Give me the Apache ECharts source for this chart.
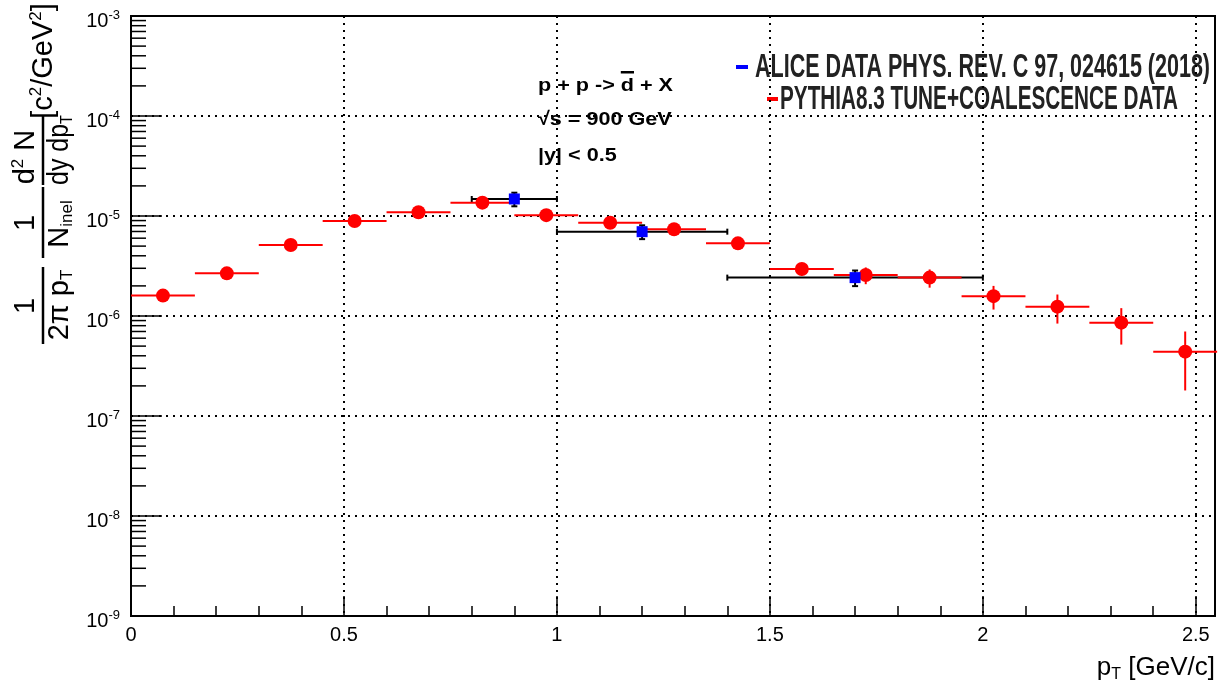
<!DOCTYPE html>
<html>
<head>
<meta charset="utf-8">
<title>anti-deuteron pT spectrum</title>
<script src="https://cdn.jsdelivr.net/npm/echarts@6/dist/echarts.min.js"></script>
<style>
  html, body { margin: 0; padding: 0; background: #fff; }
  #main { width: 1218px; height: 688px; }
</style>
</head>
<body>
<div id="main"></div>
<script>
// PYTHIA8.3 tune + coalescence (red), bins are 0.15 GeV/c wide
var pythiaPt = [0.075, 0.225, 0.375, 0.525, 0.675, 0.825, 0.975, 1.125, 1.275,
  1.425, 1.575, 1.725, 1.875, 2.025, 2.175, 2.325, 2.475];
var pythiaVal = [1.60e-6, 2.67e-6, 5.13e-6, 8.91e-6, 1.09e-5, 1.36e-5, 1.02e-5,
  8.57e-6, 7.36e-6, 5.33e-6, 2.95e-6, 2.57e-6, 2.42e-6, 1.58e-6, 1.24e-6, 8.58e-7, 4.40e-7];
var pythiaErr = [0.05e-6, 0.08e-6, 0.12e-6, 0.2e-6, 0.25e-6, 0.3e-6, 0.3e-6,
  0.3e-6, 0.3e-6, 0.3e-6, 0.40e-6, 0.49e-6, 0.50e-6, 0.42e-6, 0.40e-6, 0.34e-6, 0.26e-6];
var pythiaHalfWidth = 0.075;

// ALICE data (blue), with bin edges
var alicePt = [0.9, 1.2, 1.7];
var aliceLow = [0.8, 1.0, 1.4];
var aliceHigh = [1.0, 1.4, 2.0];
var aliceVal = [1.48e-5, 6.97e-6, 2.42e-6];
var aliceErr = [0.23e-5, 1.1e-6, 0.43e-6];

// log axis minor ticks: mantissa x 10^decade
var yDecades = [-9, -8, -7, -6, -5, -4];
var yMantissas = [2, 3, 4, 5, 6, 7, 8, 9];

var aliceLabel = "ALICE DATA PHYS. REV. C 97, 024615 (2018)";
var pythiaLabel = "PYTHIA8.3 TUNE+COALESCENCE DATA";
var infoLine1 = ["p + p -> ", "d", " + X"];
var infoLine2 = "\u221As = 900 GeV";
var infoLine3 = "|y| < 0.5";

var font = "Liberation Sans, Arial, Helvetica, sans-serif";

function textWidth(str, f) {
  var ctx = document.createElement("canvas").getContext("2d");
  ctx.font = f;
  return ctx.measureText(str).width;
}

var yMinor = [];
yDecades.forEach(function (d) {
  yMantissas.forEach(function (m) {
    yMinor.push([0, m * Math.pow(10, d)]);
  });
});

// legend + text box, squeezed to the width they have in the picture
var legendFont = "bold 34px Liberation Sans";
var aliceScale = 455 / textWidth(aliceLabel, legendFont);
var pythiaScale = 398 / textWidth(pythiaLabel, legendFont);
var infoFont = "bold 19px Liberation Sans";
var infoScale = 135 / textWidth(infoLine1.join(""), infoFont);
var dOffset = textWidth(infoLine1[0], infoFont) * infoScale;
var dWidth = textWidth(infoLine1[1], infoFont) * infoScale;

// d2N / dy dpT denominator is narrower in the picture
var dydpScale = 70 / (textWidth("dy dp", "29px Liberation Sans") + textWidth("T", "17px Liberation Sans"));

var yRich = {
  m: { fontSize: 29, fontFamily: font, color: "#000", lineHeight: 32 },
  s: { fontSize: 17, fontFamily: font, color: "#000", lineHeight: 12, verticalAlign: "bottom" },
  p: { fontSize: 17, fontFamily: font, color: "#000", lineHeight: 14, verticalAlign: "top" },
};

function yTitleText(str, x, y, va, sx) {
  return {
    type: "text", x: x, y: y, scaleX: sx || 1,
    style: { text: str, rich: yRich, align: "center", verticalAlign: va, fill: "#000" },
  };
}

function bar(x, w) {
  return { type: "rect", shape: { x: x, y: -1.25, width: w, height: 2.5 }, style: { fill: "#000" } };
}

var chart = echarts.init(document.getElementById("main"));

var option = {
  animation: false,
  backgroundColor: "#fff",
  grid: {
    left: 131, right: 3, top: 16, bottom: 72,
    show: true, borderColor: "#000", borderWidth: 2, backgroundColor: "transparent",
  },
  xAxis: [
    {
      type: "value", min: 0, max: 2.545, interval: 0.5,
      axisLine: { lineStyle: { color: "#000", width: 2 } },
      axisTick: { inside: true, length: 20, lineStyle: { color: "#000", width: 1.5 } },
      axisLabel: {
        color: "#000", fontSize: 20, fontFamily: font, margin: 9,
        showMaxLabel: false,
      },
      splitLine: { show: true, lineStyle: { color: "#000", width: 2, type: [2, 5] } },
      name: "{a|p}{s|T}{a| [GeV/c]}",
      nameLocation: "end",
      nameGap: 0,
      nameTextStyle: {
        align: "right", verticalAlign: "top", padding: [37, 0, 0, 0],
        rich: {
          a: { fontSize: 26, fontFamily: font, color: "#000", lineHeight: 30 },
          s: { fontSize: 16, fontFamily: font, color: "#000", lineHeight: 6, verticalAlign: "bottom" },
        },
      },
    },
    {
      // minor ticks every 0.1
      type: "value", min: 0, max: 2.545, interval: 0.1, position: "bottom",
      axisLine: { show: false },
      axisTick: { inside: true, length: 10, lineStyle: { color: "#000", width: 1.5 } },
      axisLabel: { show: false },
      splitLine: { show: false },
    },
  ],
  yAxis: {
    type: "log", logBase: 10, min: 1e-9, max: 1e-3,
    axisLine: { show: true, lineStyle: { color: "#000", width: 2 } },
    axisTick: { show: true, inside: true, length: 31, lineStyle: { color: "#000", width: 1.5 } },
    axisLabel: {
      margin: 11, padding: [8, 0, 0, 0],
      formatter: function (v) {
        return "{b|10}{s|" + Math.round(Math.log10(v)) + "}";
      },
      rich: {
        b: { fontSize: 20, fontFamily: font, color: "#000", lineHeight: 22, verticalAlign: "bottom" },
        s: { fontSize: 13, fontFamily: font, color: "#000", lineHeight: 13, verticalAlign: "top" },
      },
    },
    splitLine: { show: true, lineStyle: { color: "#000", width: 2, type: [2, 5] } },
  },
  graphic: [
    {
      // y title, rotated to read bottom to top
      type: "group", x: 43, y: 345, rotation: Math.PI / 2,
      children: [
        bar(1, 77),
        yTitleText("{m|1}", 39, -1, "bottom"),
        yTitleText("{m|2\u03C0 p}{s|T}", 40, 1, "top"),
        bar(87, 71),
        yTitleText("{m|1}", 122, -1, "bottom"),
        yTitleText("{m|N}{s|inel}", 121, 1, "top"),
        bar(160, 70),
        yTitleText("{m|d}{p|2}{m| N}", 188, -1, "bottom"),
        yTitleText("{m|dy dp}{s|T}", 195, 1, "top", dydpScale),
        yTitleText("{m|[c}{p|2}{m|/GeV}{p|2}{m|]}", 284, 1, "middle"),
      ],
    },
    { type: "rect", shape: { x: 736, y: 65, width: 12, height: 4 }, style: { fill: "#0000ff" } },
    {
      type: "text", x: 755, y: 68, scaleX: aliceScale,
      style: { text: aliceLabel, font: legendFont, fill: "#222", verticalAlign: "middle" },
    },
    { type: "rect", shape: { x: 767, y: 97, width: 11, height: 4 }, style: { fill: "#ff0000" } },
    {
      type: "text", x: 780, y: 100, scaleX: pythiaScale,
      style: { text: pythiaLabel, font: legendFont, fill: "#222", verticalAlign: "middle" },
    },
    {
      type: "text", x: 538, y: 86, scaleX: infoScale,
      style: { text: infoLine1.join(""), font: infoFont, fill: "#000", verticalAlign: "middle" },
    },
    { type: "rect", shape: { x: 538 + dOffset, y: 71, width: dWidth, height: 2.5 }, style: { fill: "#000" } },
    {
      type: "text", x: 538, y: 120, scaleX: infoScale,
      style: { text: infoLine2, font: infoFont, fill: "#000", verticalAlign: "middle" },
    },
    {
      type: "text", x: 538, y: 156, scaleX: infoScale,
      style: { text: infoLine3, font: infoFont, fill: "#000", verticalAlign: "middle" },
    },
  ],
  series: [
    {
      name: "ALICE bins",
      type: "custom",
      data: alicePt.map(function (x, i) {
        return [x, aliceVal[i], aliceLow[i], aliceHigh[i], aliceErr[i]];
      }),
      encode: { x: 0, y: 1 },
      renderItem: function (params, api) {
        var x = api.value(0), y = api.value(1), e = api.value(4);
        var l = api.coord([api.value(2), y]);
        var r = api.coord([api.value(3), y]);
        var t = api.coord([x, y + e]);
        var b = api.coord([x, y - e]);
        var cap = 3;
        var st = { stroke: "#000", lineWidth: 2 };
        return {
          type: "group",
          children: [
            { type: "line", shape: { x1: l[0], y1: l[1], x2: r[0], y2: r[1] }, style: st },
            { type: "line", shape: { x1: l[0], y1: l[1] - cap, x2: l[0], y2: l[1] + cap }, style: st },
            { type: "line", shape: { x1: r[0], y1: r[1] - cap, x2: r[0], y2: r[1] + cap }, style: st },
            { type: "line", shape: { x1: t[0], y1: t[1], x2: b[0], y2: b[1] }, style: st },
            { type: "line", shape: { x1: t[0] - cap, y1: t[1], x2: t[0] + cap, y2: t[1] }, style: st },
            { type: "line", shape: { x1: b[0] - cap, y1: b[1], x2: b[0] + cap, y2: b[1] }, style: st },
          ],
        };
      },
      silent: true,
      z: 3,
    },
    {
      name: "PYTHIA bins",
      type: "custom",
      data: pythiaPt.map(function (x, i) {
        return [x, pythiaVal[i], pythiaErr[i]];
      }),
      encode: { x: 0, y: 1 },
      renderItem: function (params, api) {
        var x = api.value(0), y = api.value(1), e = api.value(2);
        var l = api.coord([x - pythiaHalfWidth, y]);
        var r = api.coord([x + pythiaHalfWidth, y]);
        var t = api.coord([x, y + e]);
        var b = api.coord([x, y - e]);
        var st = { stroke: "#ff0000", lineWidth: 2 };
        return {
          type: "group",
          children: [
            { type: "line", shape: { x1: l[0], y1: l[1], x2: r[0], y2: r[1] }, style: st },
            { type: "line", shape: { x1: t[0], y1: t[1], x2: b[0], y2: b[1] }, style: st },
          ],
        };
      },
      silent: true,
      z: 4,
    },
    {
      name: "PYTHIA8.3 TUNE+COALESCENCE DATA",
      type: "scatter",
      data: pythiaPt.map(function (x, i) { return [x, pythiaVal[i]]; }),
      symbol: "circle",
      symbolSize: 14,
      itemStyle: { color: "#ff0000", opacity: 1 },
      z: 5,
    },
    {
      name: "ALICE DATA",
      type: "scatter",
      data: alicePt.map(function (x, i) { return [x, aliceVal[i]]; }),
      symbol: "rect",
      symbolSize: 11,
      itemStyle: { color: "#0000ff", opacity: 1 },
      z: 6,
    },
    {
      name: "y minor ticks",
      type: "custom",
      data: yMinor,
      clip: false,
      silent: true,
      renderItem: function (params, api) {
        var p = api.coord([0, api.value(1)]);
        return {
          type: "line",
          shape: { x1: p[0], y1: p[1], x2: p[0] + 15, y2: p[1] },
          style: { stroke: "#000", lineWidth: 1.5 },
        };
      },
      z: 2,
    },
  ],
};

chart.setOption(option);
</script>
</body>
</html>
